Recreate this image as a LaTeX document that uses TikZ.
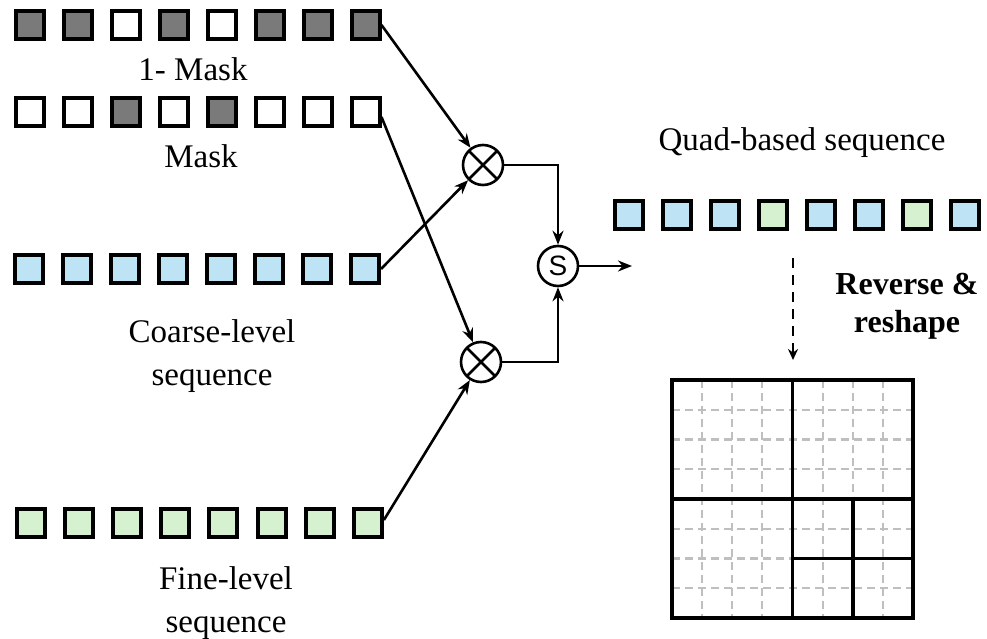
\documentclass[tikz,border=0pt]{standalone}
\usepackage{fontspec}
\setmainfont{Liberation Serif}
\newfontfamily\labelsans{Liberation Sans}
\usetikzlibrary{arrows.meta}

\definecolor{maskgray}{HTML}{7A7A7A}
\definecolor{coarseblue}{HTML}{BEE3F5}
\definecolor{finegreen}{HTML}{D6F1CF}

\tikzset{
  cell/.style={draw=black, line width=4pt, minimum size=28pt, inner sep=0pt},
  darkcell/.style={cell, fill=maskgray},
  lightcell/.style={cell, fill=white},
  bluecell/.style={cell, fill=coarseblue},
  greencell/.style={cell, fill=finegreen},
  lbl/.style={font=\fontsize{33}{36}\selectfont, inner sep=0pt, align=center},
  opcircle/.style={circle, draw=black, line width=2.6pt, minimum size=40pt, inner sep=0pt},
  flow/.style={line width=2.6pt, -{Stealth[length=14pt, width=11pt]}},
}

\begin{document}
\begin{tikzpicture}[x=1pt, y=-1pt]
\useasboundingbox (0,0) rectangle (987,639);

% mask rows: 1 = dark, 0 = white
\foreach \v [count=\i] in {1,1,0,1,0,1,1,1} {
  \ifnum\v=1 \node[darkcell] (t\i) at ({29.5+48*(\i-1)}, 25) {};
  \else \node[lightcell] (t\i) at ({29.5+48*(\i-1)}, 25) {}; \fi
}
\foreach \v [count=\i] in {0,0,1,0,1,0,0,0} {
  \ifnum\v=1 \node[darkcell] (m\i) at ({29.5+48*(\i-1)}, 112) {};
  \else \node[lightcell] (m\i) at ({29.5+48*(\i-1)}, 112) {}; \fi
}
\node[lbl] (lmaskinv) at (193, 69) {1- Mask};
\node[lbl] (lmask) at (201, 156) {Mask};

% coarse and fine sequences
\foreach \i in {1,...,8} {
  \node[bluecell] (c\i) at ({29+48*(\i-1)}, 269) {};
  \node[greencell] (f\i) at ({30.5+48.2*(\i-1)}, 523) {};
}
\node[lbl] (lcoarse) at (212, 356) {Coarse-level\\[7pt]sequence};
\node[lbl] (lfine) at (226, 603) {Fine-level\\[7pt]sequence};

% operators
\node[opcircle, path picture={
  \draw[line width=2.6pt] (path picture bounding box.north west) -- (path picture bounding box.south east)
    (path picture bounding box.north east) -- (path picture bounding box.south west);}] (o1) at (483,165) {};
\node[opcircle, path picture={
  \draw[line width=2.6pt] (path picture bounding box.north west) -- (path picture bounding box.south east)
    (path picture bounding box.north east) -- (path picture bounding box.south west);}] (o2) at (481,362) {};
\node[opcircle, font=\labelsans\fontsize{28}{28}\selectfont] (s) at (558,266) {S};

\coordinate (out) at (632,266);

\draw[flow] (t8.east) -- (o1);
\draw[flow] (c8.east) -- (o1);
\draw[flow] ([yshift=-5pt]m8.east) -- (o2);
\draw[flow] ([yshift=3pt]f8.east) -- (o2);
\draw[flow] (o1.east) -| (s.north);
\draw[flow] (o2.east) -| (s.south);
\draw[flow] (s.east) -- (out);

% quad-based sequence
\foreach \k [count=\i] in {b,b,b,g,b,b,g,b} {
  \if\k b\node[bluecell] (q\i) at ({629+48*(\i-1)}, 215) {};
  \else\node[greencell] (q\i) at ({629+48*(\i-1)}, 215) {};\fi
}
\node[lbl] (lquad) at (802, 143) {Quad-based sequence};

% reverse and reshape
\coordinate (dtop) at (793,258);
\coordinate (dbot) at (793,360);
\draw[line width=2.6pt, dash pattern=on 10pt off 7pt, -{Stealth[length=11pt, width=10pt]}] (dtop) -- (dbot);
\node[lbl, font=\bfseries\fontsize{32}{38}\selectfont] (lrev) at (907, 306) {Reverse \&\\ reshape};

% quadtree grid
\draw[gray!50, line width=2.2pt, dash pattern=on 8pt off 5pt]
  \foreach \j in {1,...,7} {
    ({672+30.125*\j},380) -- ({672+30.125*\j},618)
    (672,{380+29.75*\j}) -- (913,{380+29.75*\j})
  };
\draw[line width=3.8pt] (672,380) rectangle (913,618);
\draw[line width=3.8pt] (792.5,380) -- (792.5,618) (672,499) -- (913,499);
\draw[line width=3.8pt] (852.75,499) -- (852.75,618) (792.5,558.5) -- (913,558.5);
\end{tikzpicture}
\end{document}
